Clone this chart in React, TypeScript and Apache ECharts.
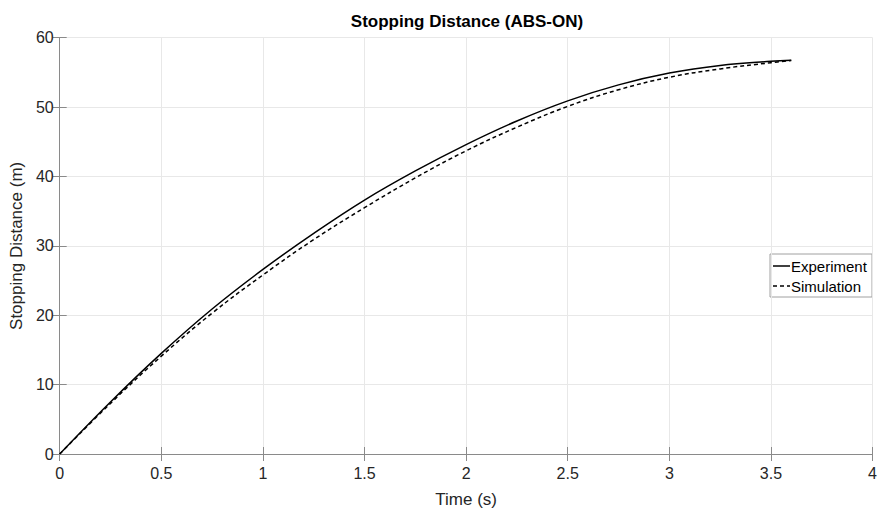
import React, { useEffect, useRef } from "react";
import * as echarts from "echarts";

const timeS = [0, 0.25, 0.5, 0.75, 1.0, 1.25, 1.5, 1.75, 2.0, 2.25, 2.5, 2.75, 3.0, 3.25, 3.5, 3.6];
const experiment = [0, 7.5, 14.5, 20.9, 26.6, 31.8, 36.6, 40.8, 44.6, 48.0, 50.9, 53.2, 54.9, 56.0, 56.6, 56.75];
const simulation = [0, 7.3, 14.1, 20.3, 25.8, 30.9, 35.5, 39.8, 43.7, 47.1, 50.1, 52.5, 54.3, 55.5, 56.4, 56.7];

const xTicks = [0, 0.5, 1, 1.5, 2, 2.5, 3, 3.5, 4];
const yTicks = [0, 10, 20, 30, 40, 50, 60];
const legendNames = ["Experiment", "Simulation"];

const FONT = "Liberation Sans, Arial, Helvetica, sans-serif";
const TXT = "#262626";
const AX = "#8a8a8a";
const GRID = "#e8e8e8";

export default function App() {
  const ref = useRef<HTMLDivElement>(null);
  useEffect(() => {
    if (!ref.current) return;
    const chart = echarts.init(ref.current, null, { renderer: "svg" });
    const pairs = (ys: number[]) => timeS.map((t, i) => [t, ys[i]]);
    const axisCommon = {
      axisLine: { show: true, lineStyle: { color: AX, width: 1 } },
      axisTick: { show: true, inside: true, length: 7, lineStyle: { color: AX } },
    };
    const lx = 770, ly = 254, lw = 102, lh = 43;
    chart.setOption({
      animation: false,
      backgroundColor: "#ffffff",
      textStyle: { fontFamily: FONT },
      title: {
        text: "Stopping Distance (ABS-ON)",
        left: 467,
        textAlign: "center",
        top: 13,
        padding: 0,
        textStyle: { fontFamily: FONT, fontSize: 17, fontWeight: "bold", color: "#000" },
      },
      grid: { left: 57, right: 3.5, top: 37.7, bottom: 51.5, containLabel: false },
      graphic: [
        {
          type: "group",
          z: 100,
          children: [
            {
              type: "rect",
              shape: { x: lx, y: ly, width: lw, height: lh },
              style: { fill: "#fff", stroke: "#a0a0a0", lineWidth: 1 },
            },
            {
              type: "line",
              shape: { x1: lx + 3, y1: ly + 12, x2: lx + 20, y2: ly + 12 },
              style: { stroke: "#000", lineWidth: 1.5 },
            },
            {
              type: "text",
              x: lx + 21,
              y: ly + 12,
              style: { text: legendNames[0], fontFamily: FONT, fontSize: 15, fill: "#000", verticalAlign: "middle", align: "left" },
            },
            {
              type: "line",
              shape: { x1: lx + 3, y1: ly + 32, x2: lx + 20, y2: ly + 32 },
              style: { stroke: "#000", lineWidth: 1.5, lineDash: [4, 3] },
            },
            {
              type: "text",
              x: lx + 21,
              y: ly + 32,
              style: { text: legendNames[1], fontFamily: FONT, fontSize: 15, fill: "#000", verticalAlign: "middle", align: "left" },
            },
          ],
        },
      ],
      xAxis: [
        {
          type: "value",
          min: 0,
          max: 4,
          interval: 0.5,
          name: "Time (s)",
          nameLocation: "middle",
          nameGap: 37,
          nameTextStyle: { fontFamily: FONT, fontSize: 17, color: TXT },
          ...axisCommon,
          axisLabel: {
            fontFamily: FONT,
            fontSize: 16,
            color: TXT,
            margin: 11,
            formatter: (v: number) => (xTicks.includes(v) ? String(v) : ""),
          },
          splitLine: { show: true, lineStyle: { color: GRID, width: 1 } },
        },
        {
          type: "value",
          position: "top",
          min: 0,
          max: 4,
          interval: 0.5,
          ...axisCommon,
          axisLabel: { show: false },
          splitLine: { show: false },
        },
      ],
      yAxis: [
        {
          type: "value",
          min: 0,
          max: 60,
          interval: 10,
          name: "Stopping Distance (m)",
          nameLocation: "middle",
          nameGap: 30,
          nameTextStyle: { fontFamily: FONT, fontSize: 17, color: TXT },
          ...axisCommon,
          axisLabel: {
            fontFamily: FONT,
            fontSize: 16,
            color: TXT,
            margin: 6,
            formatter: (v: number) => (yTicks.includes(v) ? String(v) : ""),
          },
          splitLine: { show: true, lineStyle: { color: GRID, width: 1 } },
        },
        {
          type: "value",
          position: "right",
          min: 0,
          max: 60,
          interval: 10,
          ...axisCommon,
          axisLabel: { show: false },
          splitLine: { show: false },
        },
      ],
      series: [
        {
          name: legendNames[0],
          type: "line",
          data: pairs(experiment),
          smooth: 0.4,
          showSymbol: false,
          symbol: "none",
          lineStyle: { color: "#000", width: 1.5, type: "solid" },
          itemStyle: { color: "#000" },
        },
        {
          name: legendNames[1],
          type: "line",
          data: pairs(simulation),
          smooth: 0.4,
          showSymbol: false,
          symbol: "none",
          lineStyle: { color: "#000", width: 1.5, type: [4, 3] },
          itemStyle: { color: "#000" },
        },
      ],
    });
    return () => chart.dispose();
  }, []);
  return <div ref={ref} style={{ width: 880, height: 513, position: "absolute", left: 0, top: 0 }} />;
}
